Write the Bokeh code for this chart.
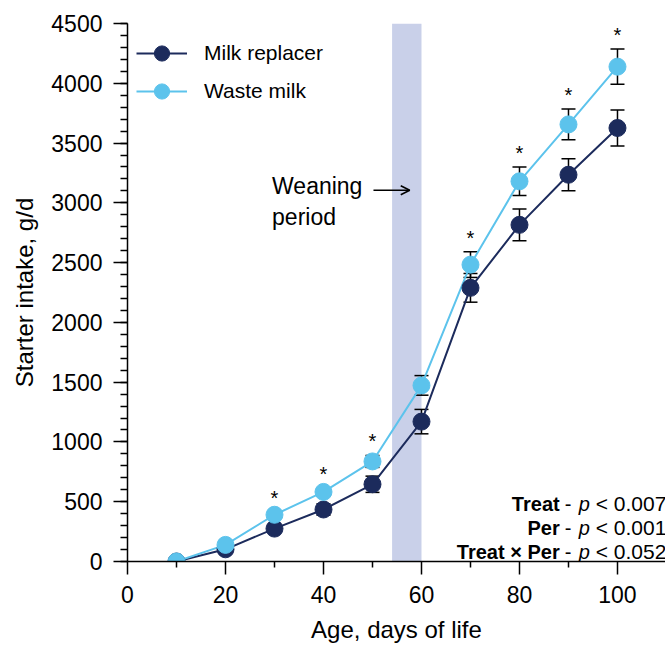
from bokeh.plotting import figure
from bokeh.models import (ColumnDataSource, Whisker, TeeHead, Legend, LegendItem,
                          Arrow, OpenHead, FixedTicker, Range1d, BoxAnnotation)
from bokeh.core.properties import value
from bokeh.embed import file_html
from bokeh.resources import INLINE

# ---- data ----
days = [10, 20, 30, 40, 50, 60, 70, 80, 90, 100]
milk_replacer = [0, 102, 275, 435, 646, 1170, 2289, 2816, 3235, 3626]
milk_replacer_err = [15, 20, 25, 48, 68, 102, 120, 133, 134, 151]
waste_milk = [0, 139, 391, 582, 837, 1473, 2483, 3180, 3656, 4139]
waste_milk_err = [15, 20, 25, 30, 50, 82, 107, 119, 128, 148]
significant = [False, False, True, True, True, False, True, True, True, True]
weaning_start, weaning_end = 54, 60
x_ticks = [0, 20, 40, 60, 80, 100]
x_minor = [10, 30, 50, 70, 90]
y_ticks = [0, 500, 1000, 1500, 2000, 2500, 3000, 3500, 4000, 4500]
y_minor = list(range(0, 4501, 100))
stats_terms = ["Treat", "Per", "Treat × Per"]
stats_p = ["< 0.007", "< 0.001", "< 0.052"]

DARK = "#1c2b5c"
LIGHT = "#5cc3ec"
BAND = "#c9d0e9"
FONT = "Liberation Sans"

p = figure(width=665, height=645, x_range=Range1d(0, 109.8), y_range=Range1d(0, 4500),
           output_backend="svg", toolbar_location=None,
           min_border_left=127, min_border_right=0, min_border_top=23, min_border_bottom=78)
p.outline_line_color = None
p.grid.visible = False
p.background_fill_color = "white"

# axes
p.xaxis.ticker = FixedTicker(ticks=x_ticks, minor_ticks=x_minor)
p.yaxis.ticker = FixedTicker(ticks=y_ticks, minor_ticks=y_minor)
for ax in (p.xaxis, p.yaxis):
    ax.axis_line_width = 1.5
    ax.axis_line_color = "black"
    ax.major_tick_line_width = 1.5
    ax.minor_tick_line_width = 1.5
    ax.major_tick_line_color = "black"
    ax.minor_tick_line_color = "black"
    ax.major_tick_in = 0
    ax.minor_tick_in = 0
    ax.major_label_text_font = FONT
    ax.major_label_text_font_size = "23px"
    ax.major_label_text_color = "black"
    ax.axis_label_text_font = FONT
    ax.axis_label_text_font_size = "24px"
    ax.axis_label_text_font_style = "normal"
    ax.axis_label_text_color = "black"
p.xaxis.major_tick_out = 13
p.xaxis.minor_tick_out = 6
p.yaxis.major_tick_out = 14
p.yaxis.minor_tick_out = 7
p.xaxis.major_label_standoff = 11
p.yaxis.major_label_standoff = 11
p.xaxis.axis_label = "Age, days of life"
p.yaxis.axis_label = "Starter intake, g/d"
p.xaxis.axis_label_standoff = 10
p.yaxis.axis_label_standoff = 10

# weaning band
p.add_layout(BoxAnnotation(left=weaning_start, right=weaning_end, bottom=0, top=4500,
                           fill_color=BAND, fill_alpha=1, line_color=None, level="underlay"))

src = ColumnDataSource(dict(
    x=days, mr=milk_replacer, wm=waste_milk,
    mr_lo=[v - e for v, e in zip(milk_replacer, milk_replacer_err)],
    mr_hi=[v + e for v, e in zip(milk_replacer, milk_replacer_err)],
    wm_lo=[v - e for v, e in zip(waste_milk, waste_milk_err)],
    wm_hi=[v + e for v, e in zip(waste_milk, waste_milk_err)],
))

for lo, hi in (("mr_lo", "mr_hi"), ("wm_lo", "wm_hi")):
    w = Whisker(base="x", lower=lo, upper=hi, source=src, line_width=1.5, line_color="black",
                level="underlay",
                upper_head=TeeHead(size=14, line_width=1.5, line_color="black"),
                lower_head=TeeHead(size=14, line_width=1.5, line_color="black"))
    p.add_layout(w)

l1 = p.line("x", "mr", source=src, line_color=DARK, line_width=2)
l2 = p.line("x", "wm", source=src, line_color=LIGHT, line_width=2)
s1 = p.scatter("x", "mr", source=src, size=17, fill_color=DARK, line_color=DARK)
s2 = p.scatter("x", "wm", source=src, size=17, fill_color=LIGHT, line_color=LIGHT)

# significance stars
star_src = ColumnDataSource(dict(
    x=[d for d, s in zip(days, significant) if s],
    y=[v + e for v, e, s in zip(waste_milk, waste_milk_err, significant) if s],
    t=["*" for s in significant if s],
))
p.text("x", "y", text="t", source=star_src, text_align="center", text_baseline="alphabetic",
       y_offset=-14, text_font=value(FONT), text_font_size="20px", text_color="black")

# weaning annotation
p.text(x=[29.5], y=[3142], text=["Weaning"], text_font=value(FONT), text_font_size="23px",
       text_baseline="alphabetic", text_align="left", text_color="black")
p.text(x=[29.5], y=[2885], text=["period"], text_font=value(FONT), text_font_size="23px",
       text_baseline="alphabetic", text_align="left", text_color="black")
p.add_layout(Arrow(end=OpenHead(size=9, line_width=1.5, line_color="black"),
                   x_start=50.2, y_start=3105, x_end=57.6, y_end=3105,
                   line_width=1.5, line_color="black"))

# statistics text
for i, (term, pv) in enumerate(zip(stats_terms, stats_p)):
    off = -(10 + 24 * (len(stats_terms) - 1 - i))
    p.text(x=[88.2], y=[0], text=[term], y_offset=off, text_align="right",
           text_baseline="alphabetic", text_font=value(FONT), text_font_size="20px",
           text_font_style="bold", text_color="black")
    p.text(x=[88.2], y=[0], text=["-"], y_offset=off, x_offset=5, text_align="left",
           text_baseline="alphabetic", text_font=value(FONT), text_font_size="20px",
           text_color="black")
    p.text(x=[88.2], y=[0], text=["p"], y_offset=off, x_offset=19, text_align="left",
           text_baseline="alphabetic", text_font=value(FONT), text_font_size="20px",
           text_font_style="italic", text_color="black")
    p.text(x=[88.2], y=[0], text=[pv], y_offset=off, x_offset=36, text_align="left",
           text_baseline="alphabetic", text_font=value(FONT), text_font_size="21px",
           text_color="black")

legend = Legend(items=[LegendItem(label="Milk replacer", renderers=[l1, s1]),
                       LegendItem(label="Waste milk", renderers=[l2, s2])],
                location=(9, 451), glyph_width=51, glyph_height=38, label_height=38,
                spacing=-12, padding=0, margin=0, label_standoff=17,
                label_text_font=FONT, label_text_font_size="21px", label_text_color="black",
                border_line_color=None, background_fill_alpha=0)
p.add_layout(legend)

open("out.html", "w").write(file_html(p, INLINE))
